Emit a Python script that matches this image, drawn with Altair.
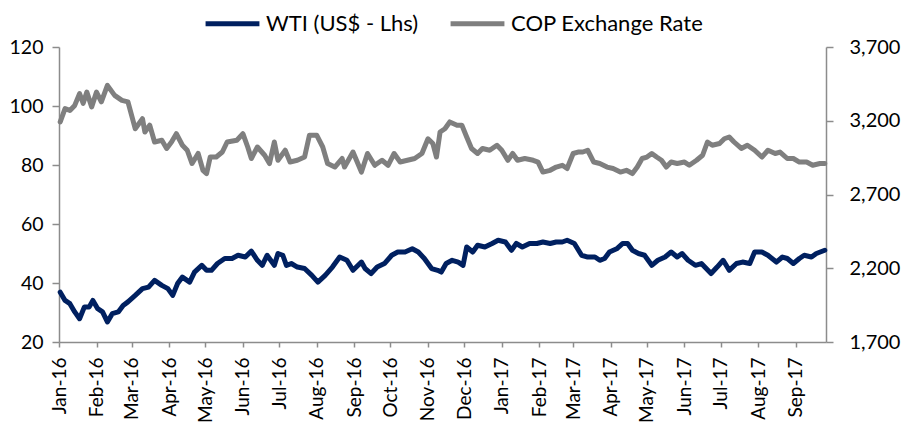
import altair as alt
import pandas as pd

WTI_NAME = "WTI (US$ - Lhs)"
COP_NAME = "COP Exchange Rate"

wti_dates = [
    "2016-01-02", "2016-01-06", "2016-01-10", "2016-01-14", "2016-01-18", "2016-01-22",
    "2016-01-26", "2016-01-29", "2016-02-02", "2016-02-06", "2016-02-10", "2016-02-14",
    "2016-02-19", "2016-02-23", "2016-02-27", "2016-03-04", "2016-03-10", "2016-03-15",
    "2016-03-20", "2016-03-26", "2016-03-31", "2016-04-04", "2016-04-08", "2016-04-12",
    "2016-04-18", "2016-04-22", "2016-04-28", "2016-05-02", "2016-05-06", "2016-05-11",
    "2016-05-17", "2016-05-23", "2016-05-28", "2016-06-03", "2016-06-08", "2016-06-13",
    "2016-06-17", "2016-06-21", "2016-06-27", "2016-06-30", "2016-07-04", "2016-07-07",
    "2016-07-11", "2016-07-16", "2016-07-22", "2016-07-28", "2016-08-02", "2016-08-08",
    "2016-08-14", "2016-08-20", "2016-08-26", "2016-08-31", "2016-09-07", "2016-09-10",
    "2016-09-15", "2016-09-20", "2016-09-26", "2016-10-02", "2016-10-07", "2016-10-13",
    "2016-10-19", "2016-10-24", "2016-10-29", "2016-11-04", "2016-11-09", "2016-11-12",
    "2016-11-16", "2016-11-21", "2016-11-26", "2016-11-30", "2016-12-03", "2016-12-08",
    "2016-12-12", "2016-12-18", "2016-12-24", "2016-12-29", "2017-01-04", "2017-01-09",
    "2017-01-13", "2017-01-18", "2017-01-24", "2017-01-30", "2017-02-04", "2017-02-10",
    "2017-02-15", "2017-02-20", "2017-02-24", "2017-03-02", "2017-03-08", "2017-03-13",
    "2017-03-19", "2017-03-23", "2017-03-27", "2017-03-31", "2017-04-06", "2017-04-11",
    "2017-04-15", "2017-04-19", "2017-04-24", "2017-04-29", "2017-05-05", "2017-05-10",
    "2017-05-16", "2017-05-21", "2017-05-26", "2017-05-30", "2017-06-04", "2017-06-10",
    "2017-06-15", "2017-06-19", "2017-06-23", "2017-06-28", "2017-07-03", "2017-07-08",
    "2017-07-14", "2017-07-19", "2017-07-25", "2017-07-29", "2017-08-04", "2017-08-09",
    "2017-08-16", "2017-08-21", "2017-08-25", "2017-08-30", "2017-09-04", "2017-09-08",
    "2017-09-14", "2017-09-18", "2017-09-25",
]
wti_values = [
    36.9, 34.1, 33.0, 30.2, 27.9, 31.9,
    31.9, 34.1, 31.3, 30.2, 26.8, 29.6,
    30.2, 32.4, 33.6, 35.8, 38.1, 38.6,
    40.9, 39.2, 38.1, 35.8, 39.8, 42.0,
    40.3, 43.7, 46.0, 44.3, 44.3, 46.6,
    48.3, 48.3, 49.4, 48.8, 50.8, 47.7,
    46.0, 49.4, 46.0, 50.0, 49.4, 46.0,
    46.6, 45.4, 44.9, 42.6, 40.3, 42.6,
    45.4, 48.8, 47.7, 44.3, 47.1, 44.9,
    43.2, 45.4, 46.6, 49.4, 50.5, 50.5,
    51.6, 50.5, 48.3, 44.9, 44.3, 43.7,
    46.6, 47.7, 47.1, 46.0, 52.2, 50.5,
    52.8, 52.2, 53.4, 54.5, 53.9, 51.1,
    53.4, 52.2, 53.4, 53.4, 53.9, 53.4,
    53.9, 53.9, 54.5, 53.4, 49.4, 48.8,
    48.8, 47.7, 48.3, 50.5, 51.6, 53.4,
    53.4, 51.1, 50.0, 49.4, 46.0, 47.7,
    48.8, 50.5, 48.8, 50.0, 47.7, 46.0,
    46.6, 44.9, 43.2, 45.4, 47.7, 44.3,
    46.6, 47.1, 46.6, 50.5, 50.5, 49.4,
    47.1, 48.8, 48.3, 46.6, 48.3, 49.4,
    48.8, 50.0, 51.1,
]

cop_dates = [
    "2016-01-02", "2016-01-06", "2016-01-10", "2016-01-14", "2016-01-18", "2016-01-21",
    "2016-01-24", "2016-01-28", "2016-02-01", "2016-02-05", "2016-02-10", "2016-02-16",
    "2016-02-22", "2016-02-27", "2016-03-04", "2016-03-10", "2016-03-12", "2016-03-16",
    "2016-03-20", "2016-03-26", "2016-03-30", "2016-04-03", "2016-04-07", "2016-04-12",
    "2016-04-16", "2016-04-20", "2016-04-25", "2016-04-29", "2016-05-02", "2016-05-05",
    "2016-05-10", "2016-05-15", "2016-05-19", "2016-05-27", "2016-06-01", "2016-06-05",
    "2016-06-08", "2016-06-13", "2016-06-19", "2016-06-23", "2016-06-27", "2016-06-30",
    "2016-07-06", "2016-07-10", "2016-07-16", "2016-07-22", "2016-07-26", "2016-08-01",
    "2016-08-06", "2016-08-10", "2016-08-16", "2016-08-22", "2016-08-24", "2016-08-31",
    "2016-09-07", "2016-09-12", "2016-09-18", "2016-09-24", "2016-09-29", "2016-10-04",
    "2016-10-09", "2016-10-15", "2016-10-21", "2016-10-27", "2016-11-01", "2016-11-05",
    "2016-11-08", "2016-11-11", "2016-11-15", "2016-11-19", "2016-11-25", "2016-11-29",
    "2016-12-03", "2016-12-07", "2016-12-12", "2016-12-16", "2016-12-22", "2016-12-28",
    "2017-01-01", "2017-01-06", "2017-01-10", "2017-01-14", "2017-01-20", "2017-01-27",
    "2017-01-31", "2017-02-04", "2017-02-10", "2017-02-15", "2017-02-20", "2017-02-24",
    "2017-03-01", "2017-03-05", "2017-03-09", "2017-03-13", "2017-03-18", "2017-03-23",
    "2017-03-29", "2017-04-03", "2017-04-09", "2017-04-14", "2017-04-19", "2017-04-23",
    "2017-04-27", "2017-05-01", "2017-05-05", "2017-05-09", "2017-05-13", "2017-05-17",
    "2017-05-21", "2017-05-26", "2017-06-01", "2017-06-05", "2017-06-11", "2017-06-16",
    "2017-06-20", "2017-06-24", "2017-06-30", "2017-07-04", "2017-07-08", "2017-07-12",
    "2017-07-18", "2017-07-23", "2017-07-29", "2017-08-04", "2017-08-09", "2017-08-15",
    "2017-08-19", "2017-08-25", "2017-08-30", "2017-09-04", "2017-09-10", "2017-09-15",
    "2017-09-21", "2017-09-25",
]
cop_values = [
    3192, 3282, 3270, 3304, 3384, 3318,
    3394, 3294, 3394, 3328, 3440, 3372,
    3338, 3328, 3146, 3214, 3124, 3170,
    3056, 3068, 3012, 3056, 3112, 3034,
    3000, 2910, 2978, 2864, 2842, 2954,
    2954, 2988, 3056, 3068, 3112, 3022,
    2944, 3022, 2966, 2910, 3056, 2932,
    3000, 2920, 2932, 2954, 3102, 3102,
    3022, 2910, 2886, 2944, 2886, 2988,
    2852, 2978, 2898, 2932, 2898, 2978,
    2920, 2932, 2944, 2978, 3078, 3046,
    2954, 3124, 3146, 3192, 3170, 3170,
    3090, 3012, 2978, 3012, 3000, 3034,
    3000, 2932, 2978, 2932, 2944, 2932,
    2920, 2852, 2864, 2886, 2898, 2876,
    2978, 2988, 2988, 3000, 2920, 2910,
    2886, 2876, 2852, 2864, 2842, 2886,
    2944, 2954, 2978, 2954, 2932, 2886,
    2920, 2910, 2920, 2898, 2932, 2966,
    3056, 3034, 3046, 3078, 3090, 3056,
    3012, 3034, 3000, 2954, 3000, 2978,
    2988, 2944, 2944, 2920, 2920, 2898,
    2910, 2910,
]

left_ticks = [20, 40, 60, 80, 100, 120]
right_ticks = [1700, 2200, 2700, 3200, 3700]

wti_df = pd.DataFrame({"date": pd.to_datetime(wti_dates), "value": wti_values, "series": WTI_NAME})
cop_df = pd.DataFrame({"date": pd.to_datetime(cop_dates), "value": cop_values, "series": COP_NAME})

FONT = "Lato"
AXIS_GRAY = "#8c8c8c"

color = alt.Color(
    "series:N",
    scale=alt.Scale(domain=[WTI_NAME, COP_NAME], range=["#002060", "#7f7f7f"]),
    legend=alt.Legend(
        title=None,
        orient="none",
        direction="horizontal",
        legendX=144,
        legendY=-53,
        symbolType="stroke",
        symbolSize=2900,
        symbolStrokeWidth=5,
        labelFontSize=22,
        labelFont=FONT,
        labelColor="#000000",
        labelOffset=4,
        labelLimit=0,
        columnPadding=21,
    ),
)

x = alt.X(
    "date:T",
    scale=alt.Scale(domain=[alt.DateTime(year=2016, month=1, date=1),
                            alt.DateTime(year=2017, month=9, date=26)]),
    axis=alt.Axis(
        title=None,
        format="%b-%y",
        tickCount={"interval": "month", "step": 1},
        labelAngle=-90,
        labelFontSize=19,
        labelFont=FONT,
        labelColor="#000000",
        labelPadding=10,
        tickSize=5,
        tickColor=AXIS_GRAY,
        domainColor=AXIS_GRAY,
        domainWidth=1.5,
        tickWidth=1.5,
        grid=False,
        labelFlush=False,
        labelOverlap=False,
    ),
)

wti_line = alt.Chart(wti_df).mark_line(strokeWidth=5, strokeJoin="round", strokeCap="round").encode(
    x=x,
    y=alt.Y(
        "value:Q",
        scale=alt.Scale(domain=[20, 120], nice=False, zero=False),
        axis=alt.Axis(
            title=None,
            values=left_ticks,
            orient="left",
            labelFontSize=19.5,
            labelFont=FONT,
            labelColor="#000000",
            labelPadding=9,
            tickSize=7,
            tickColor=AXIS_GRAY,
            domainColor=AXIS_GRAY,
            domainWidth=1.5,
            tickWidth=1.5,
            grid=False,
        ),
    ),
    color=color,
)

cop_line = alt.Chart(cop_df).mark_line(strokeWidth=5, strokeJoin="round", strokeCap="round").encode(
    x=x,
    y=alt.Y(
        "value:Q",
        scale=alt.Scale(domain=[1700, 3700], nice=False, zero=False),
        axis=alt.Axis(
            title=None,
            values=right_ticks,
            format=",.0f",
            orient="right",
            labelFontSize=20,
            labelFont=FONT,
            labelColor="#000000",
            labelPadding=16,
            tickSize=7,
            tickColor=AXIS_GRAY,
            domainColor=AXIS_GRAY,
            domainWidth=1.5,
            tickWidth=1.5,
            grid=False,
        ),
    ),
    color=color,
)

chart = (
    alt.layer(cop_line, wti_line)
    .resolve_scale(y="independent")
    .properties(
        width=767,
        height=295,
        background="white",
        autosize=alt.AutoSizeParams(type="none"),
        padding={"left": 51, "top": 39, "right": 80, "bottom": 83},
    )
    .configure_view(stroke=None)
)

chart.save("out.html", embed_options={"renderer": "svg", "actions": False})
